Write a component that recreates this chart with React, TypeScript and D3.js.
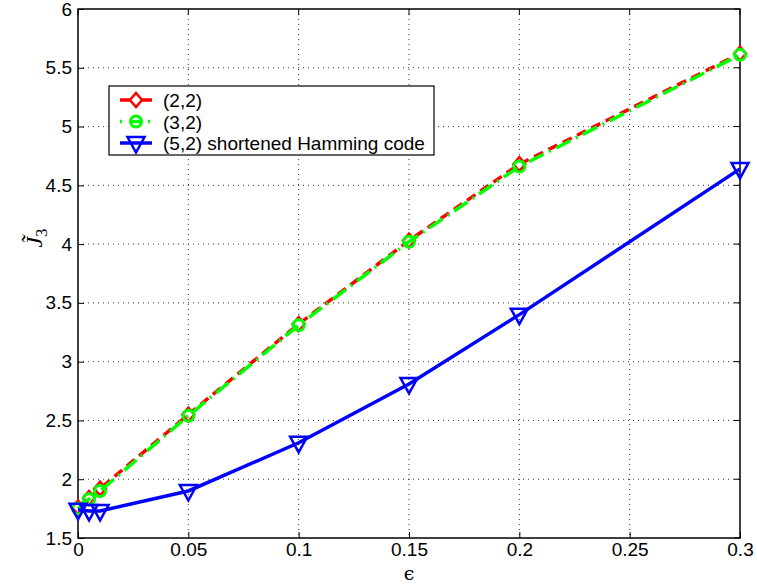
import { useEffect, useRef } from "react";
import * as d3 from "d3";

// epsilon values and the three curves
const eps = [0, 0.005, 0.01, 0.05, 0.1, 0.15, 0.2, 0.3];
const code22 = [1.76, 1.84, 1.92, 2.55, 3.32, 4.03, 4.68, 5.62];
const code32 = [1.75, 1.83, 1.90, 2.54, 3.31, 4.02, 4.66, 5.61];
const hamming = [1.74, 1.73, 1.73, 1.90, 2.31, 2.81, 3.40, 4.64];
const xTicks = [0, 0.05, 0.1, 0.15, 0.2, 0.25, 0.3];
const yTicks = [1.5, 2, 2.5, 3, 3.5, 4, 4.5, 5, 5.5, 6];
const legendLabels = ["(2,2)", "(3,2)", "(5,2) shortened Hamming code"];

export default function App() {
  const svgRef = useRef<SVGSVGElement>(null);

  useEffect(() => {
    const W = 757, H = 584;
    const left = 78, right = 740, top = 9, bottom = 538;
    const svg = d3.select(svgRef.current).attr("width", W).attr("height", H);
    svg.selectAll("*").remove();
    svg.append("rect").attr("width", W).attr("height", H).attr("fill", "white");

    const x = d3.scaleLinear().domain([0, 0.3]).range([left, right]);
    const y = d3.scaleLinear().domain([1.5, 6]).range([bottom, top]);
    const font = "Liberation Sans, Arial, sans-serif";

    // dotted grid
    const grid = svg.append("g").attr("stroke", "#333").attr("stroke-width", 1).attr("stroke-dasharray", "1,4");
    xTicks.slice(1, -1).forEach(t => {
      grid.append("line").attr("x1", x(t)).attr("x2", x(t)).attr("y1", top).attr("y2", bottom);
    });
    yTicks.slice(1, -1).forEach(t => {
      grid.append("line").attr("x1", left).attr("x2", right).attr("y1", y(t)).attr("y2", y(t));
    });

    // axes with inward ticks
    svg.append("g")
      .attr("transform", `translate(0,${bottom})`)
      .call(d3.axisBottom(x).tickValues(xTicks).tickSize(-6).tickPadding(5).tickFormat(d => String(d)))
      .call(g => g.select(".domain").remove())
      .call(g => g.selectAll("text").attr("font-size", 19).attr("font-family", font).attr("fill", "#000"));
    svg.append("g")
      .attr("transform", `translate(${left},0)`)
      .call(d3.axisLeft(y).tickValues(yTicks).tickSize(-6).tickPadding(6).tickFormat(d => String(d)))
      .call(g => g.select(".domain").remove())
      .call(g => g.selectAll("text").attr("font-size", 19).attr("font-family", font).attr("fill", "#000"));
    // mirrored ticks top/right
    xTicks.forEach(t => {
      svg.append("line").attr("x1", x(t)).attr("x2", x(t)).attr("y1", top).attr("y2", top + 6).attr("stroke", "#000");
    });
    yTicks.forEach(t => {
      svg.append("line").attr("x1", right).attr("x2", right - 6).attr("y1", y(t)).attr("y2", y(t)).attr("stroke", "#000");
    });
    svg.append("rect").attr("x", left).attr("y", top).attr("width", right - left).attr("height", bottom - top)
      .attr("fill", "none").attr("stroke", "#000").attr("stroke-width", 1.5);

    const line = d3.line<number>().x((_, i) => x(eps[i])).y(d => y(d));

    const diamond = (g: any, cx: number, cy: number) =>
      g.append("path").attr("d", `M${cx},${cy - 7}L${cx + 6},${cy}L${cx},${cy + 7}L${cx - 6},${cy}Z`)
        .attr("fill", "white").attr("stroke", "#ff0000").attr("stroke-width", 2.5);
    const circle = (g: any, cx: number, cy: number) =>
      g.append("circle").attr("cx", cx).attr("cy", cy).attr("r", 5.5)
        .attr("fill", "none").attr("stroke", "#00ff00").attr("stroke-width", 3);
    const tri = (g: any, cx: number, cy: number) =>
      g.append("path").attr("d", `M${cx - 8.5},${cy - 6}L${cx + 8.5},${cy - 6}L${cx},${cy + 9.5}Z`)
        .attr("fill", "none").attr("stroke", "#0000ff").attr("stroke-width", 2.5);

    const series = [
      { data: code22, color: "#ff0000", dash: "10,6", marker: diamond },
      { data: code32, color: "#00ff00", dash: "16,6,2,6", marker: circle },
      { data: hamming, color: "#0000ff", dash: null, marker: tri },
    ];

    series.forEach(s => {
      const p = svg.append("path").datum(s.data).attr("d", line).attr("fill", "none")
        .attr("stroke", s.color).attr("stroke-width", 3.5);
      if (s.dash) p.attr("stroke-dasharray", s.dash);
      const mg = svg.append("g");
      s.data.forEach((v, i) => s.marker(mg, x(eps[i]), y(v)));
    });

    // legend
    const lg = svg.append("g");
    lg.append("rect").attr("x", 109).attr("y", 86).attr("width", 325).attr("height", 69)
      .attr("fill", "white").attr("stroke", "#000").attr("stroke-width", 1.2);
    series.forEach((s, i) => {
      const cy = 100 + i * 21.5;
      const l = lg.append("line").attr("x1", 120).attr("x2", 152).attr("y1", cy).attr("y2", cy)
        .attr("stroke", s.color).attr("stroke-width", 3.5);
      if (i === 1) l.attr("stroke-dasharray", "2,8,10,8");
      s.marker(lg, 136, cy);
      lg.append("text").attr("x", 163).attr("y", cy + 7).attr("font-size", 19).attr("font-family", font)
        .text(legendLabels[i]);
    });

    // axis labels
    svg.append("text").attr("x", (left + right) / 2).attr("y", 580).attr("text-anchor", "middle")
      .attr("font-family", "DejaVu Serif, serif").attr("font-size", 19).text("ϵ");
    const yl = svg.append("text").attr("transform", "translate(42,238) rotate(-90)")
      .attr("text-anchor", "middle").attr("font-family", "Liberation Serif, serif").attr("font-size", 24);
    yl.append("tspan").attr("font-style", "italic").text("J\u0303");
    yl.append("tspan").attr("font-size", 17).attr("dy", 5).text("3");
  }, []);

  return <svg ref={svgRef} style={{ display: "block", position: "absolute", left: 0, top: 0 }} />;
}
